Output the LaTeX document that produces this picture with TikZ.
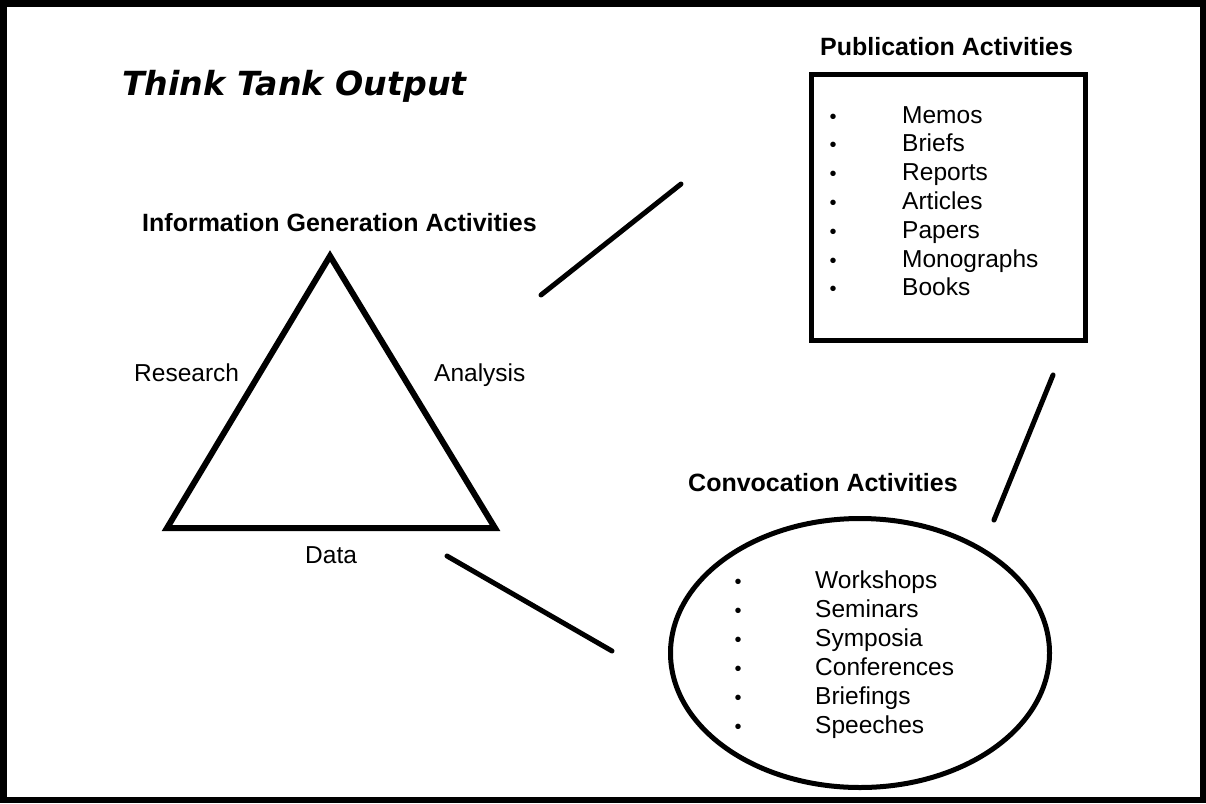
\documentclass[tikz,border=0pt]{standalone}
\usepackage{fontspec}
\setmainfont{Liberation Sans}
\newfontfamily\titlefont{DejaVu Sans}
\usetikzlibrary{shapes.geometric}
\tikzset{
  heavy/.style={line width=5pt, line cap=round},
  heading/.style={anchor=base west, inner sep=0, font=\fontsize{25}{25}\selectfont\bfseries},
  item/.style={anchor=base west, inner sep=0, font=\fontsize{24.5}{24.5}\selectfont},
  bul/.style={anchor=base, inner sep=0, font=\fontsize{20}{20}\selectfont},
}
\begin{document}
\begin{tikzpicture}[x=1pt,y=-1pt]
\useasboundingbox (0,0) rectangle (1206,803);
\draw[line width=6.5pt] (3.5,3.5) rectangle (1203,800);

% title
\node[anchor=base west, inner sep=0, font=\titlefont\fontsize{33.2}{33.2}\selectfont\bfseries\itshape] (title) at (122,95) {Think Tank Output};

% triangle
\node[heading] (igh) at (142,231) {Information Generation Activities};
\coordinate (ta) at (330,256);
\coordinate (tl) at (167,528);
\coordinate (tr) at (495,528);
\draw[line width=6pt, line join=miter] (ta) -- (tl) -- (tr) -- cycle;
\node[item] (research) at (134,381) {Research};
\node[item] (analysis) at (434,381) {Analysis};
\node[item] (data) at (305,563) {Data};

% publication box
\node[heading] (pubh) at (820,55) {Publication Activities};
\node[draw, line width=5pt, minimum width=274pt, minimum height=266pt, inner sep=0] (pub) at (948.5,207.5) {};
\foreach \t [count=\i from 0] in {Memos,Briefs,Reports,Articles,Papers,Monographs,Books}{
  \node[bul] (pb\i) at (833,123+28.8*\i) {•};
  \node[item] (pi\i) at (902,123+28.8*\i) {\t};
}

% convocation ellipse
\node[heading] (convh) at (688,491) {Convocation Activities};
\node[draw, ellipse, line width=5pt, minimum width=379pt, minimum height=269pt, inner sep=0] (conv) at (860,653) {};
\foreach \t [count=\i from 0] in {Workshops,Seminars,Symposia,Conferences,Briefings,Speeches}{
  \node[bul] (cb\i) at (738,588+29*\i) {•};
  \node[item] (ci\i) at (815,588+29*\i) {\t};
}

% connectors
\coordinate (c1a) at (541,295);
\coordinate (c1b) at (681,184);
\coordinate (c2a) at (447,556);
\coordinate (c2b) at (612,651);
\coordinate (c3a) at (1053,375);
\coordinate (c3b) at (994,520);
\draw[heavy] (c1a) -- (c1b);
\draw[heavy] (c2a) -- (c2b);
\draw[heavy] (c3a) -- (c3b);
\end{tikzpicture}
\end{document}
